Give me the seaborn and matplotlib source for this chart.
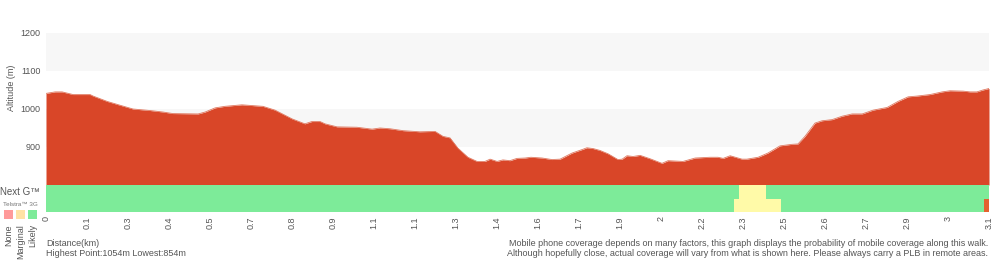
import numpy as np
import pandas as pd
import matplotlib
matplotlib.use("Agg")
import matplotlib.pyplot as plt
import seaborn as sns

# ---- data ----
distance_km = [0.000, 0.030, 0.053, 0.089, 0.145, 0.155, 0.201, 0.243, 0.286, 0.342,
               0.385, 0.417, 0.500, 0.523, 0.556, 0.588, 0.644, 0.713, 0.753, 0.809,
               0.851, 0.874, 0.901, 0.917, 0.957, 1.022, 1.072, 1.098, 1.131, 1.174,
               1.229, 1.279, 1.305, 1.328, 1.354, 1.387, 1.417, 1.443, 1.460, 1.483,
               1.502, 1.525, 1.548, 1.575, 1.594, 1.631, 1.663, 1.690, 1.729, 1.765,
               1.778, 1.798, 1.821, 1.848, 1.880, 1.894, 1.910, 1.930, 1.953, 1.986,
               2.025, 2.045, 2.094, 2.134, 2.183, 2.209, 2.226, 2.249, 2.288, 2.304,
               2.341, 2.373, 2.413, 2.452, 2.472, 2.495, 2.528, 2.551, 2.584, 2.617,
               2.650, 2.683, 2.719, 2.765, 2.801, 2.834, 2.863, 2.906, 2.946, 2.972,
               3.015, 3.038, 3.060, 3.080, 3.100]
altitude_m = [1041, 1045, 1045, 1038, 1038, 1034, 1020, 1010, 1000, 996,
              992, 988, 987, 992, 1003, 1007, 1011, 1007, 997, 974,
              961, 967, 967, 961, 953, 952, 947, 950, 948, 943,
              940, 941, 928, 924, 897, 873, 862, 862, 868, 862,
              866, 864, 870, 871, 873, 871, 867, 868, 884, 894,
              898, 896, 891, 882, 867, 868, 877, 875, 878, 869,
              857, 864, 862, 871, 873, 873, 870, 877, 868, 868,
              873, 884, 903, 907, 908, 928, 963, 969, 972, 981,
              987, 987, 997, 1004, 1020, 1032, 1034, 1038, 1045, 1048,
              1047, 1045, 1045, 1050, 1054]

tick_labels = ["0", "0.1", "0.3", "0.4", "0.5", "0.7", "0.8", "0.9", "1.1", "1.1",
               "1.3", "1.4", "1.6", "1.7", "1.9", "2", "2.2", "2.3", "2.5", "2.6",
               "2.7", "2.9", "3", "3.1"]
y_ticks = [800, 900, 1000, 1100, 1200]
y_tick_labels = ["", "900", "1000", "1100", "1200"]

# coverage segments (km) and level: 0 none, 1 marginal, 2 likely
nextg_start = [0.000, 2.278, 2.367]
nextg_end = [2.278, 2.367, 3.100]
nextg_level = [2, 1, 2]
g3_start = [0.000, 2.262, 2.416, 3.084]
g3_end = [2.262, 2.416, 3.084, 3.100]
g3_level = [2, 1, 2, 0]

legend_labels = ["None", "Marginal", "Likely"]

# ---- style ----
sns.set_style("white")
plt.rcParams['font.family'] = ['Liberation Sans', 'DejaVu Sans']

fill_col = "#d94628"
cov_cols = {0: "#e4622f", 1: "#fffaa8", 2: "#7deb99"}
legend_cols = ["#ff9a9a", "#ffe2a4", "#7deb99"]
text_col = "#555555"

W, H = 1000, 260
fig = plt.figure(figsize=(W / 100, H / 100), dpi=100)
left, right = 46, 989
top, base, cov_bottom = 33, 185, 212
ax = fig.add_axes([left / W, 1 - base / H, (right - left) / W, (base - top) / H])
axc = fig.add_axes([left / W, 1 - cov_bottom / H, (right - left) / W, (cov_bottom - base) / H])

D = distance_km[-1]
df = pd.DataFrame({"distance": distance_km, "altitude": altitude_m})

# background bands
for lo, hi in [(900, 1000), (1100, 1200)]:
    ax.axhspan(lo, hi, color="#f7f7f7", lw=0, zorder=0)

ax.fill_between(df["distance"], 800, df["altitude"], color=fill_col, lw=0, zorder=2)
sns.lineplot(data=df, x="distance", y="altitude", ax=ax, color="#e07a62", lw=0.6, zorder=3)

ax.set_xlim(0, D)
ax.set_ylim(800, 1200)
ax.set_yticks(y_ticks)
ax.set_yticklabels(y_tick_labels, fontsize=6.5, color=text_col)
ax.tick_params(axis="y", length=0, pad=4)
ax.set_xticks([])
ax.set_xlabel("")
ax.set_ylabel("")
for s in ax.spines.values():
    s.set_visible(False)

# coverage rows
for starts, ends, levels, row in [(nextg_start, nextg_end, nextg_level, 1),
                                  (g3_start, g3_end, g3_level, 0)]:
    for s0, s1, lv in zip(starts, ends, levels):
        axc.barh(row, s1 - s0, left=s0, height=1.0, color=cov_cols[lv], lw=0)
axc.set_xlim(0, D)
axc.set_ylim(-0.5, 1.5)
axc.set_yticks([])
ticks = np.linspace(0, D, len(tick_labels))
axc.set_xticks(ticks)
axc.set_xticklabels(tick_labels, rotation=90, fontsize=6.5, color=text_col)
axc.tick_params(axis="x", length=0, pad=3)
for s in axc.spines.values():
    s.set_visible(False)

# left side texts
fig.text(12 / W, 1 - 88 / H, "Altitude (m)", rotation=90, ha="center", va="center",
         fontsize=6.5, color=text_col)
fig.text(0 / W, 1 - 192 / H, "Next G\u2122", ha="left", va="center", fontsize=7, color=text_col)
fig.text(3 / W, 1 - 204 / H, "Telstra\u2122 3G", ha="left", va="center", fontsize=4.5, color="#777777")
for i, (lab, col) in enumerate(zip(legend_labels, legend_cols)):
    x0 = 4 + i * 12
    fig.patches.append(plt.Rectangle((x0 / W, 1 - 219 / H), 9 / W, 9 / H,
                                     transform=fig.transFigure, color=col, lw=0))
    fig.text((x0 + 4.5) / W, 1 - 224 / H, lab, rotation=90, ha="center", va="top",
             fontsize=6.5, color=text_col)

# bottom texts
fig.text(46 / W, 1 - 244 / H, "Distance(km)", ha="left", va="center", fontsize=6.5, color=text_col)
fig.text(46 / W, 1 - 253 / H, "Highest Point:1054m Lowest:854m", ha="left", va="center",
         fontsize=6.5, color=text_col)
fig.text(988 / W, 1 - 244 / H,
         "Mobile phone coverage depends on many factors, this graph displays the probability of mobile coverage along this walk.",
         ha="right", va="center", fontsize=6.5, color=text_col)
fig.text(988 / W, 1 - 253 / H,
         "Although hopefully close, actual coverage will vary from what is shown here. Please always carry a PLB in remote areas.",
         ha="right", va="center", fontsize=6.5, color=text_col)

fig.savefig("out.png", dpi=100, facecolor="white")
